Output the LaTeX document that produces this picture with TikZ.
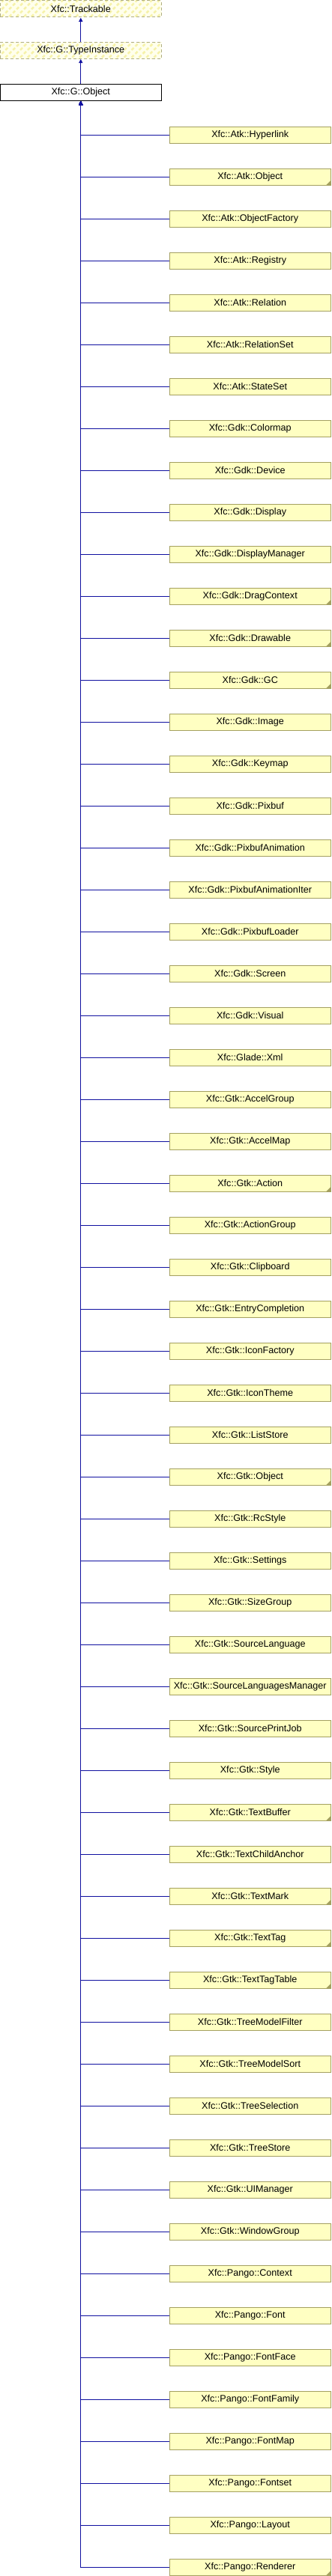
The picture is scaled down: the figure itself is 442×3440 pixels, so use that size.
\documentclass[tikz,border=0pt]{standalone}
\usepackage{fontspec}
\setmainfont{Liberation Sans}
\usetikzlibrary{arrows.meta,positioning,patterns.meta}
\definecolor{edgeblue}{RGB}{16,16,160}
\definecolor{classfill}{RGB}{255,255,194}
\definecolor{classdraw}{RGB}{164,160,96}
\definecolor{hatchbg}{RGB}{255,255,236}
\definecolor{hatchline}{RGB}{246,242,168}
\definecolor{hatchdraw}{RGB}{176,174,130}
\tikzset{
    classbox/.style={draw=classdraw, fill=classfill, line width=1pt, inner sep=0pt,
        minimum width=215pt, minimum height=22pt, font=\fontsize{12.6}{14}\selectfont},
    basebox/.style={classbox, draw=black, fill=white},
    extbox/.style={classbox, draw=hatchdraw, dash pattern=on 4pt off 3pt,
        preaction={fill=hatchbg},
        pattern={Lines[angle=45,distance=7pt,line width=2.5pt]}, pattern color=hatchline},
    inherit/.style={draw=edgeblue, line width=1pt, -{Triangle[length=5pt,width=5pt]}}
}
\begin{document}
\begin{tikzpicture}[x=1pt, y=-1pt]
\useasboundingbox (0,0) rectangle (442,3440);
\node[extbox] (trackable) at (107.75,11.5) {Xfc::Trackable};
\node[extbox] (typeinst) at (107.75,67.5) {Xfc::G::TypeInstance};
\node[basebox] (gobject) at (107.75,123.5) {Xfc::G::Object};
\draw[inherit] (typeinst) -- (trackable);
\draw[inherit] (gobject) -- (typeinst);
% derived classes
\foreach \cls [count=\i from 0] in {
    Atk::Hyperlink, Atk::Object, Atk::ObjectFactory, Atk::Registry, Atk::Relation,
    Atk::RelationSet, Atk::StateSet, Gdk::Colormap, Gdk::Device, Gdk::Display,
    Gdk::DisplayManager, Gdk::DragContext, Gdk::Drawable, Gdk::GC, Gdk::Image,
    Gdk::Keymap, Gdk::Pixbuf, Gdk::PixbufAnimation, Gdk::PixbufAnimationIter,
    Gdk::PixbufLoader, Gdk::Screen, Gdk::Visual, Glade::Xml, Gtk::AccelGroup,
    Gtk::AccelMap, Gtk::Action, Gtk::ActionGroup, Gtk::Clipboard,
    Gtk::EntryCompletion, Gtk::IconFactory, Gtk::IconTheme, Gtk::ListStore,
    Gtk::Object, Gtk::RcStyle, Gtk::Settings, Gtk::SizeGroup, Gtk::SourceLanguage,
    Gtk::SourceLanguagesManager, Gtk::SourcePrintJob, Gtk::Style, Gtk::TextBuffer,
    Gtk::TextChildAnchor, Gtk::TextMark, Gtk::TextTag, Gtk::TextTagTable,
    Gtk::TreeModelFilter, Gtk::TreeModelSort, Gtk::TreeSelection, Gtk::TreeStore,
    Gtk::UIManager, Gtk::WindowGroup, Pango::Context, Pango::Font, Pango::FontFace,
    Pango::FontFamily, Pango::FontMap, Pango::Fontset, Pango::Layout, Pango::Renderer} {
    \node[classbox] (c\i) at (333.75,180+56*\i) {Xfc::\cls};
    \draw[inherit] (c\i.west) -| (gobject.south);
}
% classes with more derived classes
\foreach \i in {1,11,12,13,25,32,40,42,43,44,58}
    \fill[classdraw] ([shift={(-0.5,-0.5)}]c\i.south east) -- ++(0,-6) -- ++(-6,6) -- cycle;
\end{tikzpicture}
\end{document}
